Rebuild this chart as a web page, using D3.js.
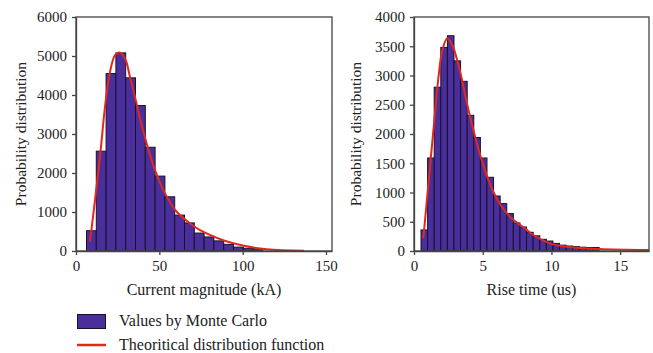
<!DOCTYPE html>
<html>
<head>
<meta charset="utf-8">
<script src="https://cdn.jsdelivr.net/npm/d3@7"></script>
<style>
  body { margin: 0; background: #fff; }
  svg { display: block; font-family: "Liberation Serif", serif; }
</style>
</head>
<body>
<svg id="chart" width="653" height="353"></svg>
<script>
// current magnitude histogram (kA)
const currentBinStart = 6.3;
const currentBinWidth = 5.88;
const currentCounts = [520, 2560, 4550, 5080, 4440, 3730, 2660, 1920, 1390, 920, 720, 460, 360, 260, 170, 100, 70, 60];
const currentCurveX = [8.4, 11.4, 14.8, 17.4, 20.4, 23.4, 26.0, 29.4, 32.4, 35.4, 38.4, 42.4, 47.4, 53.4, 60.4, 68.4, 74.4, 94.4, 114.4, 136.8];
const currentCurveY = [238, 1306, 2587, 3696, 4592, 5020, 5089, 4935, 4464, 3952, 3398, 2758, 2074, 1478, 1006, 709, 538, 197, 44, 8];
const currentTicksX = [0, 50, 100, 150];
const currentTicksY = [0, 1000, 2000, 3000, 4000, 5000, 6000];

// rise time histogram (us)
const riseBinStart = 0.51;
const riseBinWidth = 0.48;
const riseCounts = [360, 1590, 2800, 3480, 3680, 3250, 2900, 2320, 1940, 1590, 1260, 940, 810, 640, 480, 410, 320, 260, 200, 170, 130, 100, 85, 75, 65, 60, 60];
const riseCurveX = [0.68, 1.04, 1.40, 1.77, 2.06, 2.42, 2.79, 3.11, 3.47, 3.83, 4.20, 4.68, 5.16, 5.77, 6.38, 7.11, 8.07, 8.68, 9.89, 11.1, 13.5, 17.1];
const riseCurveY = [217, 1127, 2036, 2948, 3431, 3631, 3516, 3289, 2948, 2549, 2180, 1753, 1383, 1012, 756, 558, 387, 273, 131, 73, 34, 17];
const riseTicksX = [0, 5, 10, 15];
const riseTicksY = [0, 500, 1000, 1500, 2000, 2500, 3000, 3500, 4000];

const legendLabels = ["Values by Monte Carlo", "Theoritical distribution function"];

const barFill = "#4a2f9c";
const barStroke = "#15122a";
const curveColor = "#e2281c";
const axisColor = "#444";

const svg = d3.select("#chart");

function drawPanel(p) {
  const x = d3.scaleLinear().domain(p.xDomain).range([p.left, p.right]);
  const y = d3.scaleLinear().domain(p.yDomain).range([p.bottom, p.top]);
  const g = svg.append("g");

  // bars
  g.append("g")
    .selectAll("rect")
    .data(p.counts)
    .join("rect")
      .attr("x", (d, i) => x(p.binStart + i * p.binWidth))
      .attr("width", x(p.binWidth) - x(0))
      .attr("y", d => y(d))
      .attr("height", d => y(0) - y(d))
      .attr("fill", barFill)
      .attr("stroke", barStroke)
      .attr("stroke-width", 1);

  // theoretical curve
  const pts = p.curveX.map((v, i) => [v, p.curveY[i]]);
  g.append("path")
    .datum(pts)
    .attr("fill", "none")
    .attr("stroke", curveColor)
    .attr("stroke-width", 2)
    .attr("d", d3.line().x(d => x(d[0])).y(d => y(d[1])).curve(d3.curveCatmullRom));

  // frame
  g.append("rect")
    .attr("x", p.left).attr("y", p.top)
    .attr("width", p.right - p.left).attr("height", p.bottom - p.top)
    .attr("fill", "none")
    .attr("stroke", axisColor)
    .attr("stroke-width", 1.3);

  const xAxis = g.append("g")
    .attr("transform", `translate(0,${p.bottom})`)
    .call(d3.axisBottom(x).tickValues(p.ticksX).tickFormat(d3.format("d"))
      .tickSize(4).tickSizeOuter(0).tickPadding(5));
  const yAxis = g.append("g")
    .attr("transform", `translate(${p.left},0)`)
    .call(d3.axisLeft(y).tickValues(p.ticksY).tickFormat(d3.format("d"))
      .tickSize(4).tickSizeOuter(0).tickPadding(5));

  [xAxis, yAxis].forEach(a => {
    a.select(".domain").attr("stroke", axisColor).attr("stroke-width", 1.3);
    a.selectAll(".tick line").attr("stroke", axisColor).attr("stroke-width", 1.3);
    a.selectAll(".tick text")
      .attr("fill", "#222")
      .style("font-size", "15px")
      .style("font-family", "Liberation Serif, serif");
  });

  g.append("text")
    .attr("x", (p.left + p.right) / 2)
    .attr("y", 295)
    .attr("text-anchor", "middle")
    .attr("fill", "#222")
    .style("font-size", "16px")
    .text(p.xTitle);

  g.append("text")
    .attr("transform", `translate(${p.yTitleX},134) rotate(-90)`)
    .attr("text-anchor", "middle")
    .attr("fill", "#222")
    .style("font-size", "15.5px")
    .text("Probability distribution");
}

drawPanel({
  left: 76, right: 332, top: 17, bottom: 251,
  xDomain: [0, 153.6], yDomain: [0, 6000],
  binStart: currentBinStart, binWidth: currentBinWidth, counts: currentCounts,
  curveX: currentCurveX, curveY: currentCurveY,
  ticksX: currentTicksX, ticksY: currentTicksY,
  xTitle: "Current magnitude (kA)", yTitleX: 26
});

drawPanel({
  left: 414, right: 649, top: 17, bottom: 251,
  xDomain: [0, 17.1], yDomain: [0, 4000],
  binStart: riseBinStart, binWidth: riseBinWidth, counts: riseCounts,
  curveX: riseCurveX, curveY: riseCurveY,
  ticksX: riseTicksX, ticksY: riseTicksY,
  xTitle: "Rise time (us)", yTitleX: 361
});

// legend
const legend = svg.append("g");
legend.append("rect")
  .attr("x", 77.5).attr("y", 314.5).attr("width", 28).attr("height", 14)
  .attr("fill", barFill).attr("stroke", barStroke).attr("stroke-width", 1);
legend.append("line")
  .attr("x1", 77).attr("x2", 106).attr("y1", 345).attr("y2", 345)
  .attr("stroke", curveColor).attr("stroke-width", 2.5);
legend.selectAll("text")
  .data(legendLabels)
  .join("text")
    .attr("x", 119)
    .attr("y", (d, i) => i === 0 ? 326 : 350)
    .attr("fill", "#222")
    .style("font-size", "16px")
    .text(d => d);
</script>
</body>
</html>
